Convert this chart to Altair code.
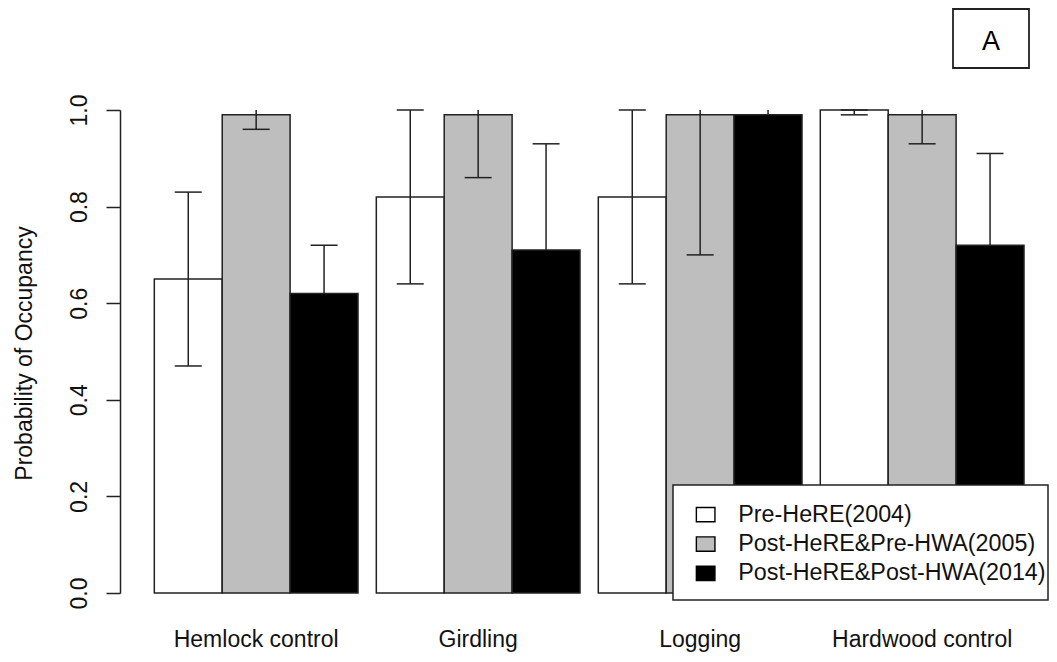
import altair as alt
import pandas as pd

categories = ["Hemlock control", "Girdling", "Logging", "Hardwood control"]
series = ["Pre-HeRE(2004)", "Post-HeRE&Pre-HWA(2005)", "Post-HeRE&Post-HWA(2014)"]
colors = ["#FFFFFF", "#BEBEBE", "#000000"]

occ_2004 = [0.65, 0.82, 0.82, 1.00]
occ_2005 = [0.99, 0.99, 0.99, 0.99]
occ_2014 = [0.62, 0.71, 0.99, 0.72]

low_2004 = [0.47, 0.64, 0.64, 0.99]
low_2005 = [0.96, 0.86, 0.70, 0.93]
low_2014 = [0.62, 0.71, 0.99, 0.72]  # lower whiskers hidden inside black bars

up_2004 = [0.83, 1.00, 1.00, 1.00]
up_2005 = [1.00, 1.00, 1.00, 1.00]
up_2014 = [0.72, 0.93, 1.00, 0.91]

upcap_2004 = [True, True, True, True]
upcap_2005 = [False, False, False, False]
upcap_2014 = [True, True, False, True]
lowcap_2004 = [True, True, True, True]
lowcap_2005 = [True, True, True, True]
lowcap_2014 = [False, False, False, False]

occ = [occ_2004, occ_2005, occ_2014]
low = [low_2004, low_2005, low_2014]
up = [up_2004, up_2005, up_2014]
upcap = [upcap_2004, upcap_2005, upcap_2014]
lowcap = [lowcap_2004, lowcap_2005, lowcap_2014]

rows, caps = [], []
for s_i, s in enumerate(series):
    for c_i, c in enumerate(categories):
        rows.append({"category": c, "series": s, "value": occ[s_i][c_i],
                     "lo": low[s_i][c_i], "hi": up[s_i][c_i]})
        if upcap[s_i][c_i]:
            caps.append({"category": c, "series": s, "pos": up[s_i][c_i]})
        if lowcap[s_i][c_i]:
            caps.append({"category": c, "series": s, "pos": low[s_i][c_i]})
df = pd.DataFrame(rows)
caps_df = pd.DataFrame(caps)

FONT = "Liberation Sans"
INK = "#222222"
TXT = "#111111"

X = alt.X("category:N", sort=categories,
          scale=alt.Scale(paddingInner=0.0824, paddingOuter=0.1133, align=0.682),
          axis=alt.Axis(title=None, domain=False, ticks=False, tickSize=0, labelAngle=0,
                        labelFontSize=23, labelFont=FONT, labelColor=TXT, labelPadding=53,
                        labelBaseline="alphabetic", labelLimit=400))
XO = alt.XOffset("series:N", sort=series, scale=alt.Scale(paddingInner=0, paddingOuter=0))
YSC = alt.Scale(domain=[0, 1], nice=False, zero=True)

bars = alt.Chart(df).mark_bar(stroke=INK, strokeWidth=1.5).encode(
    x=X, xOffset=XO,
    y=alt.Y("value:Q", scale=YSC,
            axis=alt.Axis(values=[0, 0.2, 0.4, 0.6, 0.8, 1.0], format=".1f",
                          labelAngle=270, labelAlign="center", labelBaseline="alphabetic",
                          labelPadding=20, tickSize=14, tickWidth=1.5, tickColor=INK,
                          domainColor=INK, domainWidth=1.5, labelFontSize=23,
                          labelFont=FONT, labelColor=TXT, labelOverlap=False, labelFlush=False,
                          title="Probability of Occupancy", titleFontSize=23, titleFont=FONT,
                          titleFontWeight="normal", titleColor=TXT, titleAngle=270,
                          titleAlign="center", titleBaseline="alphabetic",
                          titleX=-89, titleY=243)),
    fill=alt.Fill("series:N", sort=series, scale=alt.Scale(domain=series, range=colors),
                  legend=alt.Legend(orient="none", legendX=574, legendY=393, title=None,
                                    symbolType="M-1,-0.77L1,-0.77L1,0.77L-1,0.77Z",
                                    symbolSize=345, symbolStrokeColor="black",
                                    symbolStrokeWidth=1.4, labelFontSize=23.3, labelFont=FONT,
                                    labelColor=TXT, labelOffset=21, rowPadding=5.4, padding=0,
                                    labelLimit=500)),
)

rules = alt.Chart(df).mark_rule(color=INK, strokeWidth=1.5).encode(
    x=X, xOffset=XO, y=alt.Y("lo:Q", scale=YSC), y2="hi:Q")

capmarks = alt.Chart(caps_df).mark_tick(orient="horizontal", size=27, thickness=1.5,
                                        color=INK, opacity=1).encode(
    x=X, xOffset=XO, y=alt.Y("pos:Q", scale=YSC))

legend_frame = alt.Chart(pd.DataFrame({"k": [0]})).mark_rect(
    fill="white", stroke=INK, strokeWidth=1.5).encode(
    x=alt.value(553), x2=alt.value(928), y=alt.value(375), y2=alt.value(490))

panel = pd.DataFrame({"label": ["A"]})
abox = alt.Chart(panel).mark_rect(fill="white", stroke=INK, strokeWidth=1.8).encode(
    x=alt.value(833), x2=alt.value(909), y=alt.value(-101), y2=alt.value(-42))
atext = alt.Chart(panel).mark_text(fontSize=27, font=FONT, color="black",
                                   baseline="alphabetic", align="center").encode(
    x=alt.value(871), y=alt.value(-60), text="label:N")

chart = alt.layer(bars, rules, capmarks, legend_frame, abox, atext).properties(
    width=920, height=483,
    padding={"left": 112, "top": 102, "right": 9, "bottom": 61},
    autosize=alt.AutoSizeParams(type="none"),
).configure_view(stroke=None).configure_axis(grid=False)

chart.save("out.html", embed_options={"renderer": "svg", "actions": False})
